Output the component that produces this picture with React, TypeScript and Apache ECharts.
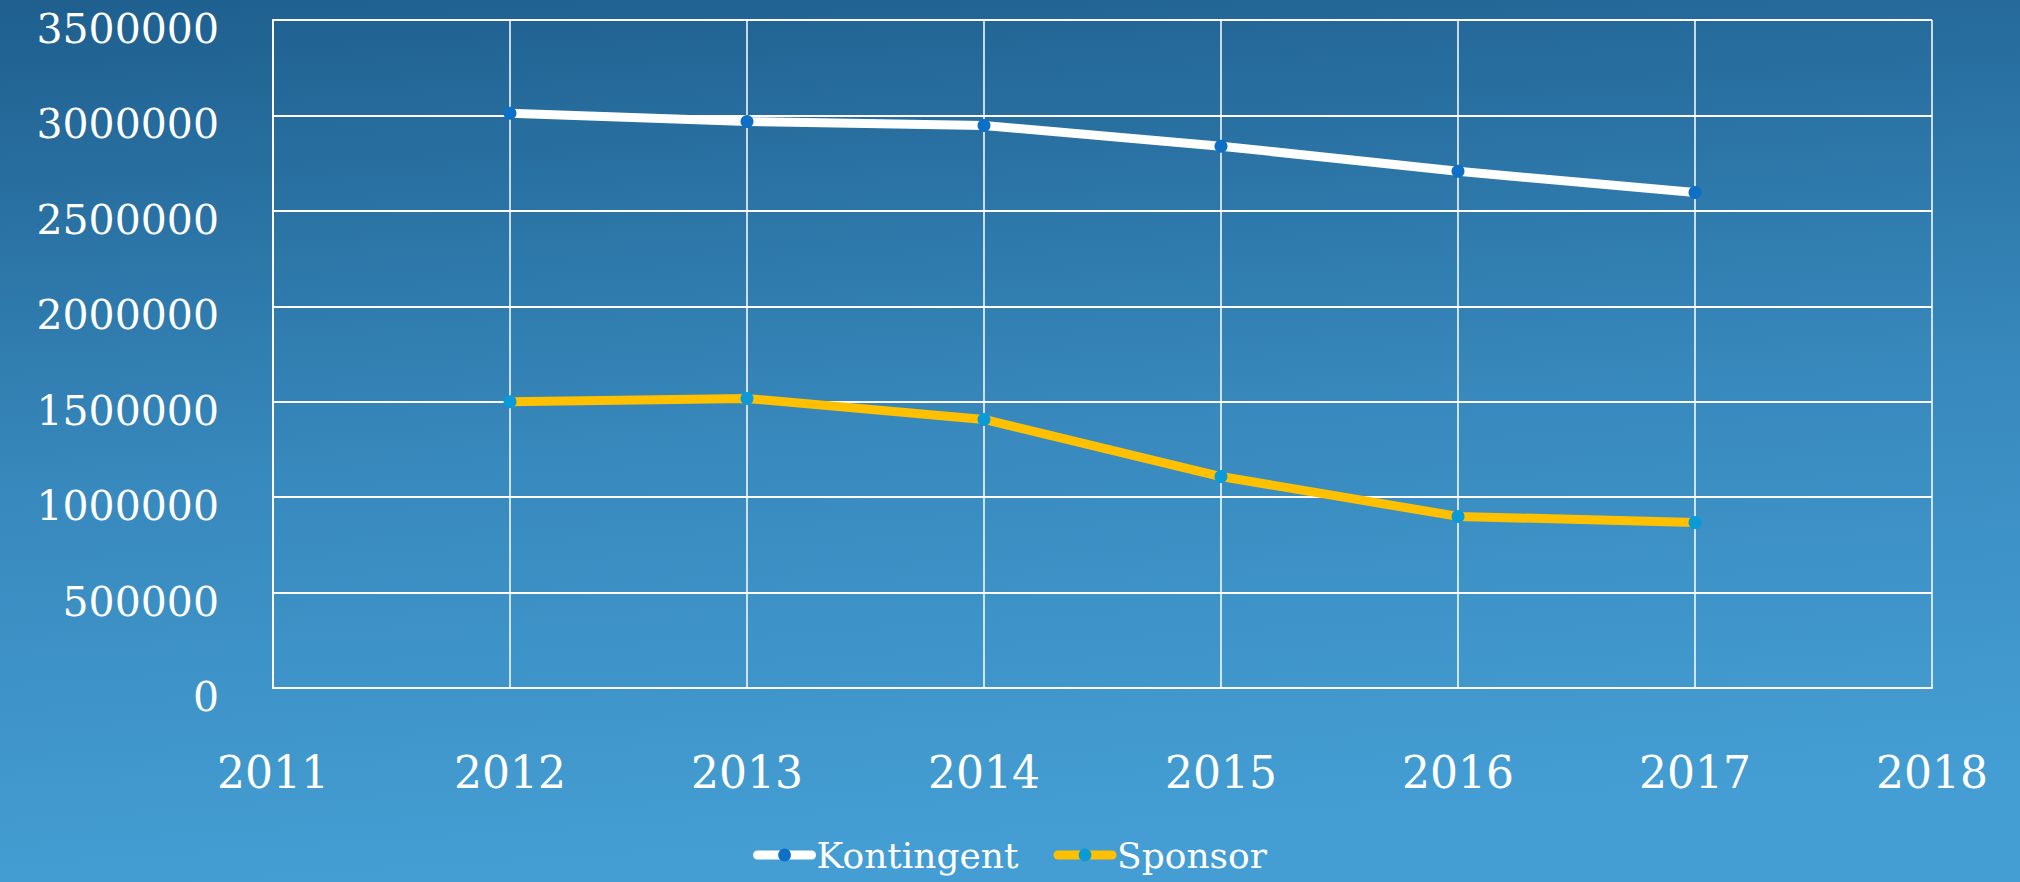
import React, { useEffect, useRef } from "react";
import * as echarts from "echarts";

const years = [2012, 2013, 2014, 2015, 2016, 2017];
const kontingent = [3012000, 2968000, 2947000, 2839000, 2707000, 2596000];
const sponsor = [1500000, 1517000, 1407000, 1108000, 899000, 867000];
const seriesNames = ["Kontingent", "Sponsor"];
const xMin = 2011;
const xMax = 2018;
const yMax = 3500000;
const yStep = 500000;

const FONT = "DejaVu Serif";

export default function App() {
  const ref = useRef<HTMLDivElement>(null);
  useEffect(() => {
    document.body.style.margin = "0";
    const chart = echarts.init(ref.current!, null, { renderer: "svg" });
    chart.setOption({
      animation: false,
      backgroundColor: new echarts.graphic.LinearGradient(0, 0, 0.15, 1, [
        { offset: 0, color: "#1e5f8e" },
        { offset: 0.55, color: "#3889bd" },
        { offset: 1, color: "#449ed3" },
      ]),
      grid: { left: 273, right: 88, top: 20, bottom: 194 },
      xAxis: {
        type: "value",
        min: xMin,
        max: xMax,
        interval: 1,
        axisLine: { show: true, lineStyle: { color: "#ffffff", width: 2 } },
        axisTick: { show: false },
        splitLine: { show: true, lineStyle: { color: "#ffffff", width: 1.5 } },
        axisLabel: {
          color: "#ffffff",
          fontFamily: FONT,
          fontSize: 44,
          margin: 62,
          formatter: (v: number) => String(v),
        },
      },
      yAxis: {
        type: "value",
        min: 0,
        max: yMax,
        interval: yStep,
        axisLine: { show: true, lineStyle: { color: "#ffffff", width: 2 } },
        axisTick: { show: false },
        splitLine: { show: true, lineStyle: { color: "#ffffff", width: 2 } },
        axisLabel: {
          color: "#ffffff",
          fontFamily: FONT,
          fontSize: 41,
          margin: 54,
          verticalAlign: "top",
          lineHeight: 18,
          formatter: (v: number) => String(v),
        },
      },
      legend: {
        left: "center",
        top: 832,
        itemWidth: 54,
        itemHeight: 16,
        itemGap: 35,
        textStyle: { color: "#ffffff", fontFamily: FONT, fontSize: 36 },
        lineStyle: { width: 9, cap: "round" },
        data: seriesNames,
      },
      series: [
        {
          name: seriesNames[0],
          type: "line",
          data: years.map((y, i) => [y, kontingent[i]]),
          symbol: "circle",
          symbolSize: 13,
          lineStyle: { color: "#ffffff", width: 9 },
          itemStyle: { color: "#0d6fc6" },
          z: 3,
        },
        {
          name: seriesNames[1],
          type: "line",
          data: years.map((y, i) => [y, sponsor[i]]),
          symbol: "circle",
          symbolSize: 13,
          lineStyle: { color: "#ffc000", width: 9 },
          itemStyle: { color: "#0a9ad8" },
          z: 3,
        },
      ],
    });
    return () => chart.dispose();
  }, []);
  return (
    <div
      ref={ref}
      style={{ position: "fixed", left: 0, top: 0, width: 2020, height: 882 }}
    />
  );
}
